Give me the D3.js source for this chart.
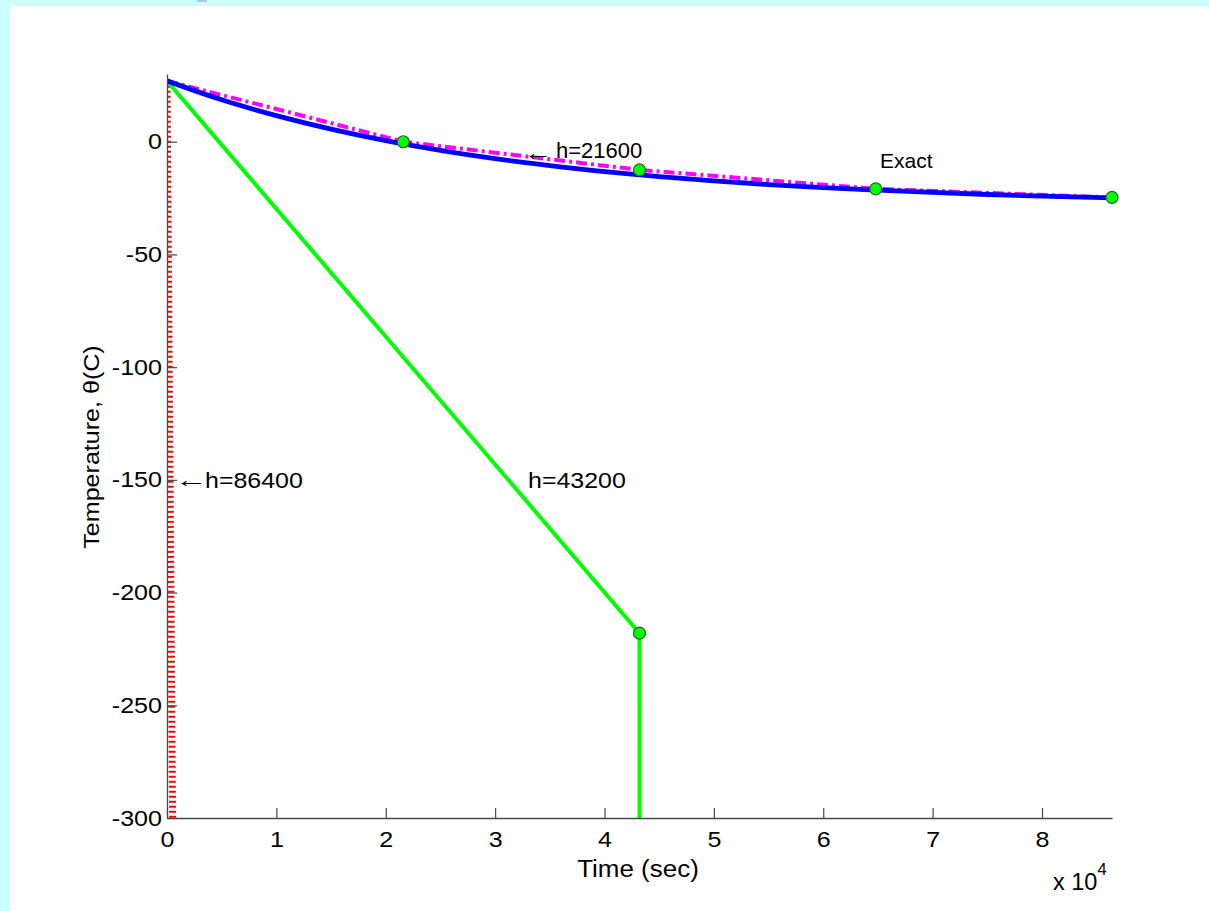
<!DOCTYPE html>
<html>
<head>
<meta charset="utf-8">
<script src="https://cdn.jsdelivr.net/npm/d3@7"></script>
<style>
  html, body { margin: 0; padding: 0; background: #ccffff; }
  svg { display: block; }
  text { font-family: "Liberation Sans", Arial, sans-serif; fill: #000; }
</style>
</head>
<body>
<svg id="chart" width="1209" height="911"></svg>
<script>
// ---- data ----
const timeExact = [0, 5000, 10000, 15000, 20000, 25000, 30000, 35000, 40000, 45000, 50000, 55000, 60000, 65000, 70000, 75000, 80000, 86400];
const tempExact = [27, 18.6, 11.6, 5.6, 0.5, -3.8, -7.5, -10.6, -13.3, -15.5, -17.4, -19.0, -20.4, -21.5, -22.5, -23.4, -24.1, -24.9];

const timeH21600 = [0, 21600, 43200, 64800, 86400];
const tempH21600 = [27, 0, -12.5, -20.9, -24.7];

const timeH43200 = [0, 43200, 86400];
const tempH43200 = [27, -218, -1000000];

const timeH86400 = [0, 86400];
const tempH86400 = [27, -55000];

const xTicks = [0, 10000, 20000, 30000, 40000, 50000, 60000, 70000, 80000];
const yTicks = [0, -50, -100, -150, -200, -250, -300];

const xDomain = [0, 86400];
const yDomain = [-300, 30];

// ---- layout ----
const svg = d3.select("#chart");
const pLeft = 167, pRight = 1112, pTop = 74.1, pBottom = 818;
const SX = 1.14;

svg.append("rect").attr("x", 10).attr("y", 6).attr("width", 1199).attr("height", 905).attr("fill", "#ffffff");
svg.append("rect").attr("x", 197).attr("y", 0).attr("width", 10).attr("height", 2).attr("fill", "#b4c4ee");

const x = d3.scaleLinear().domain(xDomain).range([pLeft, pRight]);
const y = d3.scaleLinear().domain(yDomain).range([pBottom, pTop]);

svg.append("defs").append("clipPath").attr("id", "clip")
  .append("rect").attr("x", pLeft).attr("y", pTop).attr("width", pRight - pLeft).attr("height", pBottom - pTop);

const plot = svg.append("g").attr("clip-path", "url(#clip)");

const zip = (ts, vs) => ts.map((t, i) => [t, vs[i]]);
const lineLin = d3.line().x(d => x(d[0])).y(d => y(d[1]));
const lineSmooth = d3.line().x(d => x(d[0])).y(d => y(d[1])).curve(d3.curveMonotoneX);

// h = 86400 (red dotted)
plot.append("path").datum(zip(timeH86400, tempH86400))
  .attr("d", lineLin).attr("fill", "none")
  .attr("stroke", "#ff0000").attr("stroke-width", 7).attr("stroke-dasharray", "2,3");

// h = 43200 (green)
plot.append("path").datum(zip(timeH43200, tempH43200))
  .attr("d", lineLin).attr("fill", "none")
  .attr("stroke", "#00ff00").attr("stroke-width", 4);

// h = 21600 (magenta dash-dot)
plot.append("path").datum(zip(timeH21600, tempH21600))
  .attr("d", lineLin).attr("fill", "none")
  .attr("stroke", "#ff00ff").attr("stroke-width", 4).attr("stroke-dasharray", "11,4,3,4");

// exact (blue)
plot.append("path").datum(zip(timeExact, tempExact))
  .attr("d", lineSmooth).attr("fill", "none")
  .attr("stroke", "#0000ff").attr("stroke-width", 4.8).attr("stroke-linejoin", "round");

// markers
const markers = zip(timeH21600, tempH21600).concat(zip(timeH43200, tempH43200))
  .filter(d => d[0] > 0 && d[1] >= yDomain[0] && d[1] <= yDomain[1]);
svg.append("g").selectAll("circle").data(markers).enter().append("circle")
  .attr("cx", d => x(d[0])).attr("cy", d => y(d[1])).attr("r", 6)
  .attr("fill", "#00ff00").attr("stroke", "#2f5f2f").attr("stroke-width", 1.2);

// axes
const axisColor = "#4a4a4a";
const xAxis = d3.axisBottom(x).tickValues(xTicks).tickSizeInner(-10).tickSizeOuter(0)
  .tickPadding(13).tickFormat(d => d / 10000);
const gx = svg.append("g").attr("transform", `translate(0,${pBottom})`).call(xAxis);
gx.select(".domain").attr("stroke", axisColor).attr("stroke-width", 1.3);
gx.selectAll(".tick line").attr("stroke", axisColor).attr("stroke-width", 1.2);
gx.selectAll(".tick text").attr("font-size", 22).attr("font-family", "Liberation Sans, Arial, sans-serif")
  .attr("fill", "#000").attr("transform", `scale(${SX},1)`);

const yAxis = d3.axisLeft(y).tickValues(yTicks).tickSizeInner(-10).tickSizeOuter(0)
  .tickPadding(5).tickFormat(d3.format("d"));
const gy = svg.append("g").attr("transform", `translate(${pLeft},0)`).call(yAxis);
gy.select(".domain").attr("stroke", axisColor).attr("stroke-width", 1.3);
gy.selectAll(".tick line").attr("stroke", axisColor).attr("stroke-width", 1.2);
gy.selectAll(".tick text").attr("font-size", 22).attr("font-family", "Liberation Sans, Arial, sans-serif")
  .attr("fill", "#000").attr("x", -5 / SX).attr("transform", `scale(${SX},1)`)
  .text(d => d === 0 ? "0" : "-" + Math.abs(d));

// stretched text helper
function sText(px, py, str, size, sx, anchor, rot) {
  const s = sx || 1;
  const g = svg.append("g").attr("transform", `translate(${px},${py})` + (rot ? ` rotate(${rot})` : "") + ` scale(${s},1)`);
  return g.append("text").attr("x", 0).attr("y", 0).attr("font-size", size)
    .attr("text-anchor", anchor || "start").text(str);
}

// axis labels
sText(638, 877, "Time (sec)", 23, 1.13, "middle");

const exp = svg.append("text").attr("x", 1053).attr("y", 890).attr("font-size", 23.5);
exp.append("tspan").text("x 10");
exp.append("tspan").attr("dy", -15).attr("font-size", 16.5).text("4");

sText(99, 447, "Temperature, θ(C)", 22, 1.14, "middle", -90);

// annotations
function arrow(px, py, size, sx) {
  sText(px, py, "←", size, sx, "start").attr("font-family", "DejaVu Sans").attr("fill", "#333");
}
arrow(175, 487, 22, 1.5);
sText(205, 488, "h=86400", 22.5, 1.11);

arrow(524, 160, 22, 1.3);
sText(556, 158, "h=21600", 22, 1);

sText(880, 168, "Exact", 21, 1);
sText(528, 488, "h=43200", 22.5, 1.11);
</script>
</body>
</html>
